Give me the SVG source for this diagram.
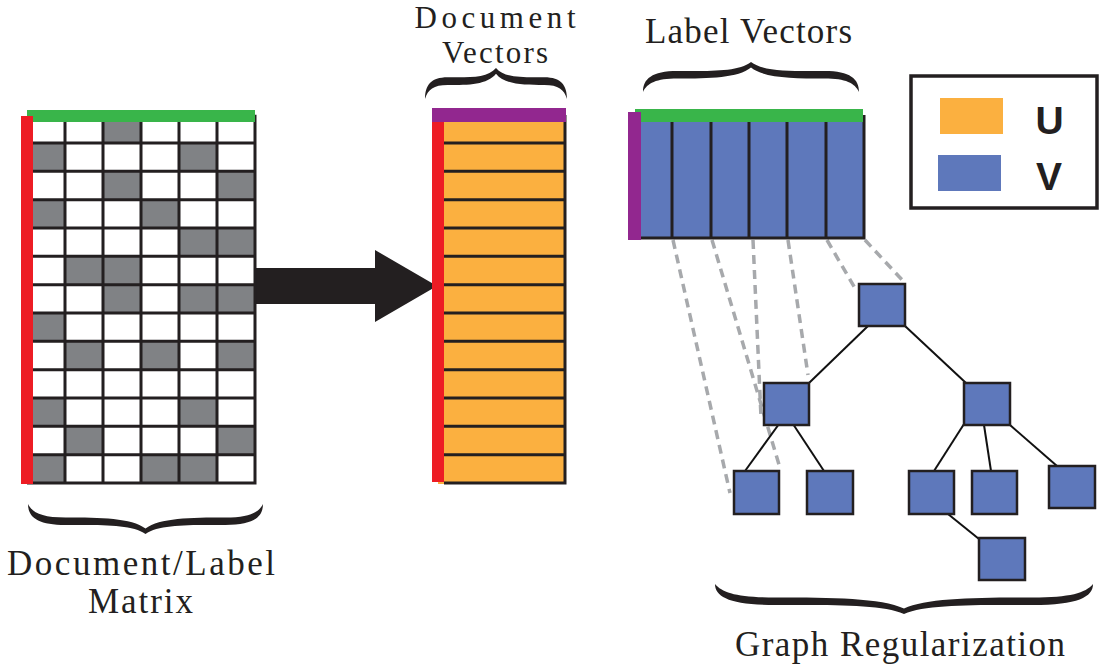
<svg xmlns="http://www.w3.org/2000/svg" width="1102" height="666" viewBox="0 0 1102 666">
<style>
.lbl{font-family:"Liberation Serif","Times New Roman",serif;font-size:35px;fill:#231f20;text-anchor:middle}
.leg{font-family:"Liberation Sans",Arial,sans-serif;font-size:39px;font-weight:bold;fill:#231f20;text-anchor:middle}
.gray{fill:#808285}
.grid{fill:none;stroke:#231f20;stroke-width:3}
.tn{fill:#5e78bb;stroke:#231f20;stroke-width:2.5}
.edge{stroke:#111;stroke-width:2;fill:none}
.dash{stroke:#a7a9ac;stroke-width:3.5;stroke-dasharray:9 6;fill:none}
.brace{fill:#231f20}
</style>
<defs>
<path id="brace" d="M0,30 C0,17 8,9 32,9 C62,9 88,10 100,0 C112,10 138,9 168,9 C192,9 200,17 200,30 C196,21 188,16.5 168,16.5 C138,16.5 112,16 100,5.5 C88,16 62,16.5 32,16.5 C12,16.5 4,21 0,30 Z"/>
</defs>
<rect width="1102" height="666" fill="#fff"/>

<g id="connectors">
<polygon points="255,268 375,268 375,250 437,286 375,322 375,304 255,304" fill="#231f20"/>
<line class="dash" x1="673" y1="240" x2="730" y2="493"/>
<line class="dash" x1="712" y1="240" x2="780" y2="468"/>
<line class="dash" x1="753" y1="240" x2="761" y2="417"/>
<line class="dash" x1="788" y1="240" x2="808" y2="375"/>
<line class="dash" x1="827" y1="240" x2="856" y2="290"/>
<line class="dash" x1="865" y1="240" x2="905" y2="283"/>
<line class="edge" x1="868" y1="326" x2="809" y2="383"/>
<line class="edge" x1="905" y1="326" x2="966" y2="383"/>
<line class="edge" x1="779" y1="424" x2="745" y2="471"/>
<line class="edge" x1="793" y1="424" x2="824" y2="471"/>
<line class="edge" x1="964" y1="424" x2="934" y2="471"/>
<line class="edge" x1="984" y1="425" x2="991" y2="471"/>
<line class="edge" x1="1010" y1="425" x2="1057" y2="466"/>
<line class="edge" x1="948" y1="514" x2="979" y2="539"/>
</g>

<g id="matrix">
<rect x="27" y="114.7" width="228" height="368.3" fill="#fff"/>
<rect class="gray" x="103" y="114.7" width="38" height="28.33"/>
<rect class="gray" x="27" y="143" width="38" height="28.33"/>
<rect class="gray" x="179" y="143" width="38" height="28.33"/>
<rect class="gray" x="103" y="171.3" width="38" height="28.33"/>
<rect class="gray" x="217" y="171.3" width="38" height="28.33"/>
<rect class="gray" x="27" y="199.7" width="38" height="28.33"/>
<rect class="gray" x="141" y="199.7" width="38" height="28.33"/>
<rect class="gray" x="179" y="228" width="38" height="28.33"/>
<rect class="gray" x="217" y="228" width="38" height="28.33"/>
<rect class="gray" x="65" y="256.3" width="38" height="28.33"/>
<rect class="gray" x="103" y="256.3" width="38" height="28.33"/>
<rect class="gray" x="103" y="284.7" width="38" height="28.33"/>
<rect class="gray" x="179" y="284.7" width="38" height="28.33"/>
<rect class="gray" x="217" y="284.7" width="38" height="28.33"/>
<rect class="gray" x="27" y="313" width="38" height="28.33"/>
<rect class="gray" x="65" y="341.3" width="38" height="28.33"/>
<rect class="gray" x="141" y="341.3" width="38" height="28.33"/>
<rect class="gray" x="217" y="341.3" width="38" height="28.33"/>
<rect class="gray" x="27" y="398" width="38" height="28.33"/>
<rect class="gray" x="179" y="398" width="38" height="28.33"/>
<rect class="gray" x="65" y="426.3" width="38" height="28.33"/>
<rect class="gray" x="217" y="426.3" width="38" height="28.33"/>
<rect class="gray" x="27" y="454.7" width="38" height="28.33"/>
<rect class="gray" x="141" y="454.7" width="38" height="28.33"/>
<rect class="gray" x="179" y="454.7" width="38" height="28.33"/>
<path class="grid" d="M65,114.7V483 M103,114.7V483 M141,114.7V483 M179,114.7V483 M217,114.7V483 M255,114.7V484.5 M27,143H255 M27,171.3H255 M27,199.7H255 M27,228H255 M27,256.3H255 M27,284.7H255 M27,313H255 M27,341.3H255 M27,369.7H255 M27,398H255 M27,426.3H255 M27,454.7H255 M27,483H256.5"/>
<rect x="27" y="110" width="228" height="12" fill="#39b54a"/>
<rect x="21" y="116" width="12" height="368" fill="#ed1c24"/>
</g>

<g id="document-vectors">
<rect x="438" y="115" width="128" height="369" fill="#fbb040"/>
<path class="grid" d="M444,143H565 M444,171.3H565 M444,199.7H565 M444,228H565 M444,256.3H565 M444,284.7H565 M444,313H565 M444,341.3H565 M444,369.7H565 M444,398H565 M444,426.3H565 M444,454.7H565 M444,483H566.5 M565,115V484.5"/>
<rect x="432" y="108" width="134" height="14" fill="#92278f"/>
<rect x="432" y="122" width="12" height="360" fill="#ed1c24"/>
</g>

<g id="label-vectors">
<rect x="634" y="115" width="230" height="123" fill="#5e78bb"/>
<path class="grid" d="M672,122V238 M711,122V238 M749,122V238 M787,122V238 M826,122V238 M864,115V239.5 M641,238H865.5"/>
<rect x="635" y="109" width="228" height="13" fill="#39b54a"/>
<rect x="628" y="112" width="13" height="128" fill="#92278f"/>
</g>

<g id="legend">
<rect x="911" y="76" width="186" height="132" fill="#fff" stroke="#231f20" stroke-width="3.5"/>
<rect x="940" y="98" width="63" height="36" fill="#fbb040"/>
<rect x="938" y="155" width="63" height="36" fill="#5e78bb"/>
<text class="leg" x="1049.5" y="134">U</text>
<text class="leg" x="1049" y="190">V</text>
</g>

<g id="tree-root"><rect class="tn" x="859" y="284" width="46" height="42"/></g>
<g id="tree-left"><rect class="tn" x="764" y="383" width="45" height="42"/></g>
<g id="tree-right"><rect class="tn" x="964" y="383" width="46" height="42"/></g>
<g id="tree-leaf1"><rect class="tn" x="734" y="471" width="45" height="43"/></g>
<g id="tree-leaf2"><rect class="tn" x="807" y="471" width="46" height="43"/></g>
<g id="tree-leaf3"><rect class="tn" x="909" y="471" width="45" height="43"/></g>
<g id="tree-leaf4"><rect class="tn" x="972" y="471" width="45" height="43"/></g>
<g id="tree-leaf5"><rect class="tn" x="1049" y="466" width="46" height="42"/></g>
<g id="tree-leaf6"><rect class="tn" x="979" y="538" width="46" height="42"/></g>

<g id="braces">
<use href="#brace" class="brace" transform="translate(425,68) scale(0.71,1.033)"/>
<use href="#brace" class="brace" transform="translate(643,62) scale(1.08,1)"/>
<use href="#brace" class="brace" transform="translate(28,534) scale(1.175,-1)"/>
<use href="#brace" class="brace" transform="translate(715,614) scale(1.89,-1)"/>
</g>

<g id="labels">
<text class="lbl" x="495" y="28" style="font-size:31px" textLength="161">Document</text>
<text class="lbl" x="495" y="63" style="font-size:31px" textLength="106">Vectors</text>
<text class="lbl" x="748.5" y="43" textLength="207">Label Vectors</text>
<text class="lbl" x="141" y="575" textLength="268">Document/Label</text>
<text class="lbl" x="140.5" y="613" textLength="105">Matrix</text>
<text class="lbl" x="900" y="656" textLength="330">Graph Regularization</text>
</g>
</svg>
